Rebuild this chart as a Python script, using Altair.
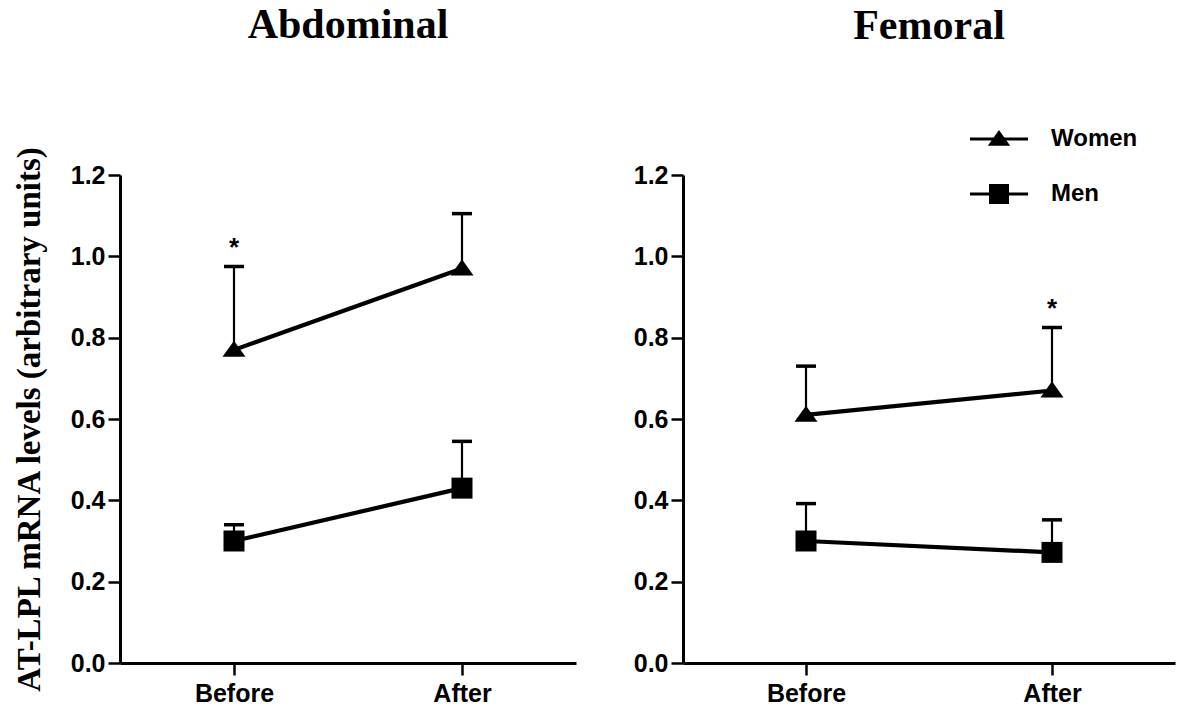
import altair as alt
import pandas as pd

# ---- data ----
timepoints = ["Before", "After"]
groups = ["Women", "Men"]

abd_women = [0.77, 0.97]
abd_women_upper = [0.975, 1.105]
abd_women_sig = ["*", ""]
abd_men = [0.30, 0.43]
abd_men_upper = [0.34, 0.545]
abd_men_sig = ["", ""]

fem_women = [0.61, 0.67]
fem_women_upper = [0.73, 0.825]
fem_women_sig = ["", "*"]
fem_men = [0.30, 0.272]
fem_men_upper = [0.392, 0.352]
fem_men_sig = ["", ""]

y_ticks = [0.0, 0.2, 0.4, 0.6, 0.8, 1.0, 1.2]

TRI = "M-1,0.6L1,0.6L0,-0.8Z"

def make_df(w, wu, ws, m, mu, ms):
    rows = []
    for i, t in enumerate(timepoints):
        rows.append({"time": t, "group": "Women", "value": w[i], "upper": wu[i], "sig": ws[i]})
        rows.append({"time": t, "group": "Men", "value": m[i], "upper": mu[i], "sig": ms[i]})
    return pd.DataFrame(rows)

abd_df = make_df(abd_women, abd_women_upper, abd_women_sig, abd_men, abd_men_upper, abd_men_sig)
fem_df = make_df(fem_women, fem_women_upper, fem_women_sig, fem_men, fem_men_upper, fem_men_sig)

SANS = "Liberation Sans"
SERIF = "Liberation Serif"


def panel(df, title, width, show_ytitle, offset):
    x = alt.X("time:N", sort=timepoints,
              scale=alt.Scale(type="point", padding=0.5),
              axis=alt.Axis(title=None, labelAngle=0, tickSize=12, labelPadding=6))
    y_axis = alt.Axis(values=y_ticks, format=".1f", tickSize=12, labelPadding=3,
                      title="AT-LPL mRNA levels (arbitrary units)" if show_ytitle else None,
                      titleFont=SERIF, titleFontSize=33, titleFontWeight="bold",
                      titleColor="black", titlePadding=24)
    y = alt.Y("value:Q", scale=alt.Scale(domain=[0, 1.2], nice=False), axis=y_axis)
    base = alt.Chart(df)
    line = base.mark_line(color="black", strokeWidth=4.2).encode(x=x, y=y, detail="group:N")
    err = base.mark_rule(color="black", strokeWidth=2.2).encode(x=x, y="value:Q", y2="upper:Q")
    cap = base.mark_tick(color="black", opacity=1, thickness=3.5, size=20).encode(x=x, y="upper:Q")
    pts = base.mark_point(filled=True, color="black", opacity=1).encode(
        x=x, y="value:Q",
        shape=alt.Shape("group:N", scale=alt.Scale(domain=groups, range=[TRI, "square"]), legend=None),
        size=alt.Size("group:N", scale=alt.Scale(domain=groups, range=[530, 441]), legend=None),
    )
    star = base.mark_text(color="black", font=SANS, fontSize=26, fontWeight="bold",
                          baseline="alphabetic", dy=-11).encode(
        x=x, y="upper:Q", text="sig:N")
    layers = [err, cap, line, pts, star]
    return alt.layer(*layers).properties(
        width=width, height=488,
        title=alt.TitleParams(title, font=SERIF, fontSize=42, fontWeight="bold",
                              color="black", anchor="middle", frame="group", offset=offset),
    )


left = panel(abd_df, "Abdominal", 456, True, 98)
right_main = panel(fem_df, "Femoral", 492, False, 79)

# legend drawn inside the right panel
legend_rows = []
ys = [-36, 19]
for lab, yy in zip(groups, ys):
    ldf = pd.DataFrame({"label": [lab]})
    rule = alt.Chart(ldf).mark_rule(color="black", strokeWidth=3).encode(
        x=alt.value(287), x2=alt.value(345), y=alt.value(yy))
    sym = alt.Chart(ldf).mark_point(filled=True, color="black", opacity=1,
                                    shape=TRI if lab == "Women" else "square",
                                    size=500 if lab == "Women" else 400).encode(
        x=alt.value(316), y=alt.value(yy))
    txt = alt.Chart(ldf).mark_text(color="black", font=SANS, fontSize=24, fontWeight="bold",
                                   align="left", baseline="middle").encode(
        x=alt.value(368), y=alt.value(yy), text="label:N")
    legend_rows += [rule, sym, txt]

right = alt.layer(right_main, *legend_rows).properties(width=492, height=488)

chart = alt.hconcat(left, right, spacing=57).properties(
    padding={"left": 13, "top": 3, "right": 5, "bottom": 5}
).configure(background="white").configure_view(stroke=None).configure_axis(
    domainColor="black", domainWidth=3, tickColor="black", tickWidth=2.5,
    labelFont=SANS, labelFontSize=25, labelFontWeight="bold", labelColor="black",
    grid=False,
)

chart.save("out.html", embed_options={"renderer": "svg", "actions": False})
